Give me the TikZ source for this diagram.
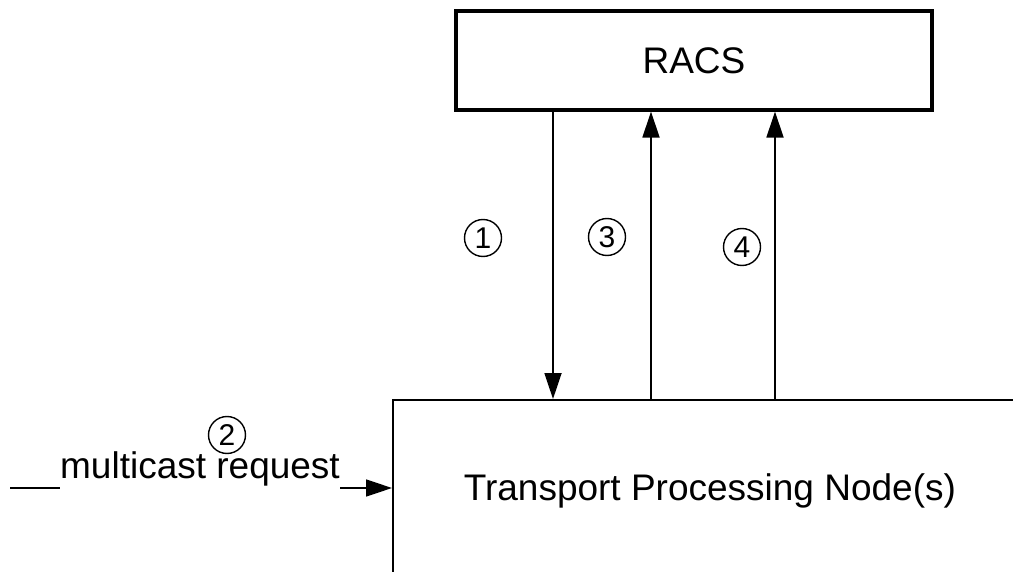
\documentclass[tikz,border=0pt]{standalone}
\usepackage{fontspec}
\setmainfont{Liberation Sans}
\usetikzlibrary{arrows.meta}

\begin{document}
\begin{tikzpicture}[
  x=1pt,y=-1pt,
  bigtext/.style={
    font=\fontsize{37}{44}\selectfont
  },
  racsblock/.style={
    rectangle,
    draw=black,
    line width=3.2pt,
    minimum width=476pt,
    minimum height=99pt,
    bigtext
  },
  tpnblock/.style={
    rectangle,
    draw=black,
    line width=1.8pt,
    minimum width=634pt,
    minimum height=182pt,
    bigtext
  },
  stepnum/.style={
    circle,
    draw=black,
    line width=1.4pt,
    minimum size=37pt,
    inner sep=0pt,
    font=\fontsize{30}{30}\selectfont
  },
  flow/.style={
    line width=1.8pt,
    -{Triangle[length=26pt,width=17pt]}
  }]
  \useasboundingbox (0,0) rectangle (1013,572);
  \clip (0,0) rectangle (1013,572);
  % blocks
  \node [racsblock] (racs) at (694,60.5) {RACS};
  \node [tpnblock,anchor=north west] (tpn) at (392,399) {Transport Processing Node(s)};
  % connector positions
  \coordinate (c1) at (553,0);
  \coordinate (c3) at (651,0);
  \coordinate (c4) at (775,0);
  \coordinate (src) at (10,488);
  % RACS <-> transport node
  \draw[flow] (racs.south -| c1) -- (tpn.north -| c1);
  \draw[flow] (tpn.north -| c3) -- (racs.south -| c3);
  \draw[flow] (tpn.north -| c4) -- (racs.south -| c4);
  % multicast request
  \node [bigtext,inner sep=0pt,anchor=base] (mreq) at (200,478) {multicast request};
  \draw[line width=1.5pt] (src) -- (mreq.west |- src);
  \draw[flow,line width=1.5pt] (mreq.east |- src) -- (tpn.west |- src);
  % step numbers
  \node [stepnum] (s1) at (483,238) {1};
  \node [stepnum] (s2) at (227,435) {2};
  \node [stepnum] (s3) at (607,237) {3};
  \node [stepnum] (s4) at (742,247) {4};
\end{tikzpicture}
\end{document}
